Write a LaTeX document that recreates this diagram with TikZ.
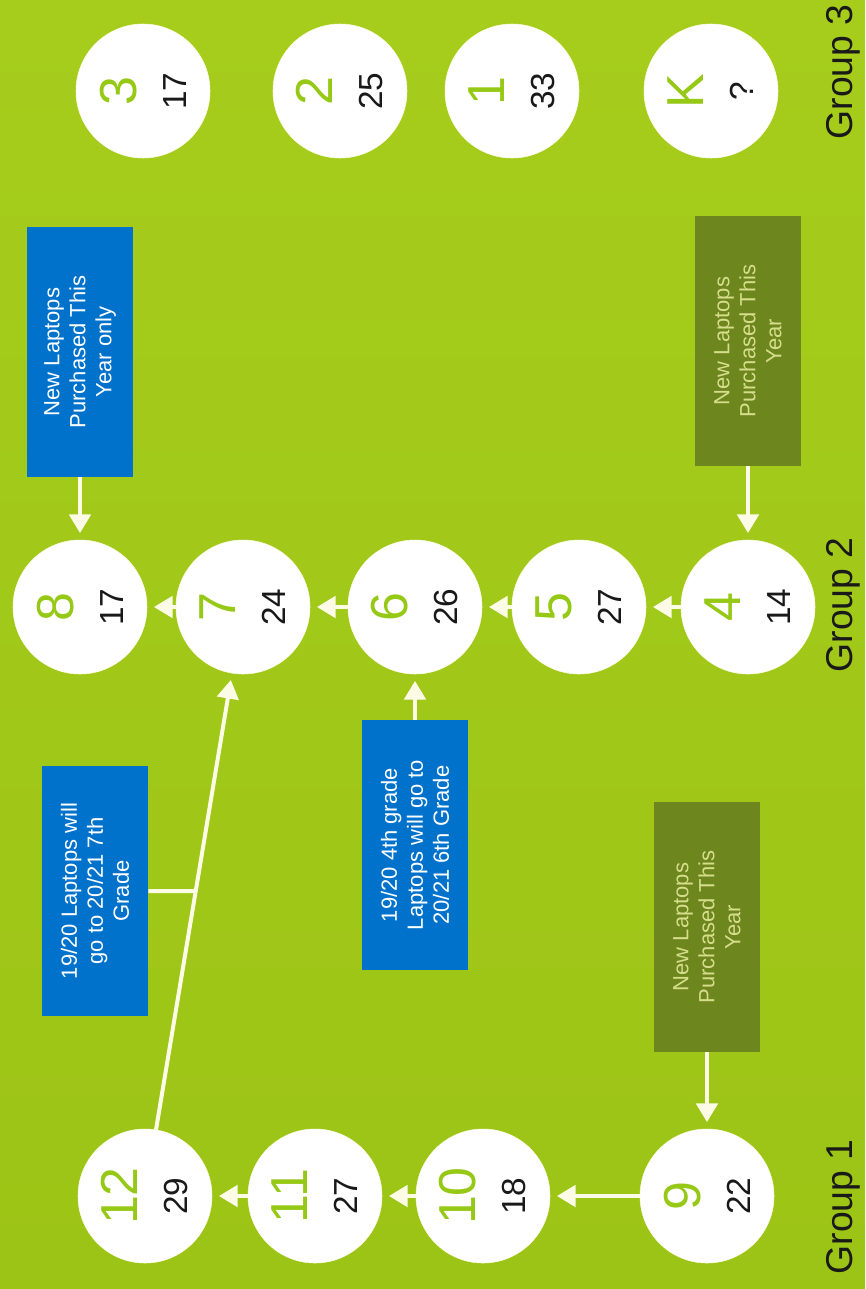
\documentclass[tikz,border=0pt]{standalone}
\usepackage{fontspec}
\setmainfont{Liberation Sans}
\usetikzlibrary{arrows.meta}

\definecolor{bgGreen}{RGB}{156,196,22}
\definecolor{bgLight}{RGB}{166,205,28}
\definecolor{numGreen}{RGB}{150,200,22}
\definecolor{boxBlue}{RGB}{0,114,204}
\definecolor{boxOlive}{RGB}{110,134,30}
\definecolor{oliveText}{RGB}{214,222,140}
\definecolor{lineWhite}{RGB}{252,252,230}

% big grade number over the head count
\newcommand{\gradeText}[2]{{\color{numGreen}\fontsize{39}{39}\selectfont #1}\\{\color{black!90}#2}}

\begin{document}
\begin{tikzpicture}
    [x = 0.75pt, y = -0.75pt,
     gradeNode/.style = {circle, fill = white, draw = lineWhite,
                         minimum size = 100.5pt, inner sep = 0pt,
                         rotate = 90, align = center,
                         font = \fontsize{25}{37.5}\selectfont},
     blueBox/.style = {fill = boxBlue, text = white,
                       minimum width = 187.5pt, minimum height = 79.5pt,
                       inner sep = 0pt, rotate = 90, align = center,
                       font = \fontsize{16.5}{19.5}\selectfont},
     oliveBox/.style = {blueBox, fill = boxOlive, text = oliveText},
     groupLabel/.style = {rotate = 90, inner sep = 0pt, text = black!90,
                          font = \fontsize{28}{34}\selectfont},
     feed/.style = {draw = lineWhite, line width = 3pt,
                    -{Triangle[length = 14pt, width = 16pt]},
                    shorten > = 5pt},
     joint/.style = {draw = lineWhite, line width = 3pt}]

    \fill [bottom color = bgGreen, top color = bgLight]
      (0,0) rectangle (865,1289);
    \useasboundingbox (0,0) rectangle (865,1289);

    % group 3
    \node at (143,91)  [gradeNode] (c3) {\gradeText{3}{17}};
    \node at (340,91)  [gradeNode] (c2) {\gradeText{2}{25}};
    \node at (512,91)  [gradeNode] (c1) {\gradeText{1}{33}};
    \node at (711,91)  [gradeNode] (cK) {\gradeText{K}{?}};

    % group 2
    \node at (80,607)  [gradeNode] (c8) {\gradeText{8}{17}};
    \node at (243,607) [gradeNode] (c7) {\gradeText{7}{24}};
    \node at (415,607) [gradeNode] (c6) {\gradeText{6}{26}};
    \node at (579,607) [gradeNode] (c5) {\gradeText{5}{27}};
    \node at (748,607) [gradeNode] (c4) {\gradeText{4}{14}};

    % group 1
    \node at (145,1196) [gradeNode] (c12) {\gradeText{12}{29}};
    \node at (315,1196) [gradeNode] (c11) {\gradeText{11}{27}};
    \node at (483,1196) [gradeNode] (c10) {\gradeText{10}{18}};
    \node at (707,1196) [gradeNode] (c9)  {\gradeText{9}{22}};

    % notes
    \node at (80,352)  [blueBox]  (newOnly)
      {New Laptops\\Purchased This\\Year only};
    \node at (748,341) [oliveBox] (newTwo)
      {New Laptops\\Purchased This\\Year};
    \node at (95,891)  [blueBox]  (toSeventh)
      {19/20 Laptops will\\go to 20/21 7th\\Grade};
    \node at (415,845) [blueBox]  (toSixth)
      {19/20 4th grade\\Laptops will go to\\20/21 6th Grade};
    \node at (707,927) [oliveBox] (newOne)
      {New Laptops\\Purchased This\\Year};

    \node at (843,72)   [groupLabel] (g3) {Group 3};
    \node at (843,605)  [groupLabel] (g2) {Group 2};
    \node at (843,1207) [groupLabel] (g1) {Group 1};

    \coordinate (jn) at (intersection of c12--c7 and toSeventh.north--toSeventh.south);

    \path
      (c4) edge [feed] (c5)
      (c5) edge [feed] (c6)
      (c6) edge [feed] (c7)
      (c7) edge [feed] (c8)

      (c9)  edge [feed] (c10)
      (c10) edge [feed] (c11)
      (c11) edge [feed] (c12)
      (c12) edge [feed] (c7)

      (newOnly) edge [feed] (c8)
      (newTwo)  edge [feed] (c4)
      (toSixth) edge [feed] (c6)
      (newOne)  edge [feed] (c9)
      (toSeventh.south) edge [joint] (jn);
\end{tikzpicture}
\end{document}
